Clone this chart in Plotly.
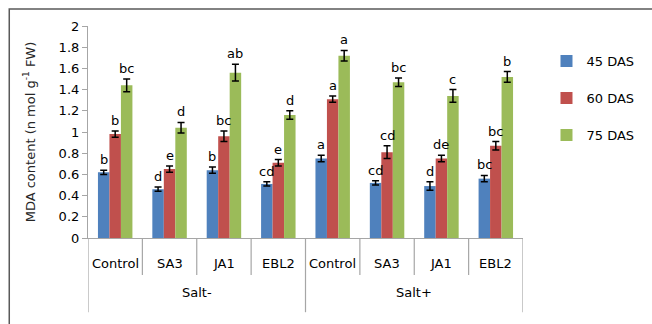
import plotly.graph_objects as go

# MDA content by treatment, salt regime and sampling stage
salt_groups = ["Salt-", "Salt+"]
treatments = ["Control", "SA3", "JA1", "EBL2"]
series_names = ["45 DAS", "60 DAS", "75 DAS"]
colors = ["#4F81BD", "#C0504D", "#9BBB59"]

mda_45 = [0.62, 0.46, 0.64, 0.51, 0.75, 0.52, 0.49, 0.56]
mda_60 = [0.98, 0.65, 0.96, 0.71, 1.31, 0.81, 0.75, 0.87]
mda_75 = [1.44, 1.04, 1.56, 1.16, 1.72, 1.47, 1.34, 1.52]

err_45 = [0.02, 0.02, 0.03, 0.02, 0.03, 0.02, 0.04, 0.03]
err_60 = [0.03, 0.03, 0.05, 0.03, 0.03, 0.06, 0.03, 0.04]
err_75 = [0.06, 0.05, 0.08, 0.04, 0.05, 0.04, 0.06, 0.05]

letters_45 = ["b", "d", "b", "cd", "a", "cd", "d", "bc"]
letters_60 = ["b", "e", "bc", "e", "a", "cd", "de", "bc"]
letters_75 = ["bc", "d", "ab", "d", "a", "bc", "c", "b"]

y_ticks = [0, 0.2, 0.4, 0.6, 0.8, 1, 1.2, 1.4, 1.6, 1.8, 2]

values = [mda_45, mda_60, mda_75]
errors = [err_45, err_60, err_75]
letters = [letters_45, letters_60, letters_75]

n_cat = len(salt_groups) * len(treatments)
xpos = list(range(n_cat))
cat_labels = treatments * len(salt_groups)

bargap = 0.366
bar_w = (1 - bargap) / len(series_names)

FONT = "DejaVu Sans"
fig = go.Figure()

for i, name in enumerate(series_names):
    fig.add_trace(go.Bar(
        x=xpos, y=values[i], name=name,
        marker=dict(color=colors[i], line=dict(width=0)),
        error_y=dict(type="data", array=errors[i], visible=True,
                     color="black", thickness=1.5, width=3.5),
        legendgroup=name,
    ))

annotations = []
# significance letters above each error bar
for i in range(len(series_names)):
    off = (i - 1) * bar_w
    for k in range(n_cat):
        annotations.append(dict(
            x=xpos[k] + off, y=values[i][k] + errors[i][k],
            xref="x", yref="y", text=letters[i][k], showarrow=False,
            yanchor="bottom", yshift=1,
            font=dict(family=FONT, size=13, color="black"),
        ))

shapes = []
# category labels and separators below the axis
for k in range(n_cat):
    annotations.append(dict(
        x=xpos[k], y=-0.118, xref="x", yref="paper", text=cat_labels[k],
        showarrow=False, yanchor="middle",
        font=dict(family=FONT, size=13, color="black"),
    ))
n_t = len(treatments)
for g, grp in enumerate(salt_groups):
    annotations.append(dict(
        x=g * n_t + (n_t - 1) / 2, y=-0.258, xref="x", yref="paper",
        text=grp, showarrow=False, yanchor="middle",
        font=dict(family=FONT, size=13, color="black"),
    ))
for b in range(n_cat + 1):
    long_line = b % n_t == 0
    shapes.append(dict(
        type="line", xref="x", yref="paper",
        x0=b - 0.5, x1=b - 0.5, y0=0, y1=-0.35 if long_line else -0.175,
        line=dict(color="#A6A6A6", width=1.2),
    ))

# outer chart frame
shapes.append(dict(
    type="rect", xref="paper", yref="paper",
    x0=-0.181, x1=2, y0=-1, y1=1.08,
    line=dict(color="#595959", width=1.5), layer="below",
))

fig.update_layout(
    width=652, height=324,
    margin=dict(l=88, r=110, t=26, b=86),
    paper_bgcolor="white", plot_bgcolor="white",
    barmode="group", bargap=bargap, bargroupgap=0,
    font=dict(family=FONT, color="black"),
    showlegend=True,
    legend=dict(
        x=1.054, y=0.905, xanchor="left", yanchor="top",
        font=dict(family=FONT, size=13, color="black"),
        tracegroupgap=17, itemwidth=30,
        bgcolor="rgba(0,0,0,0)",
    ),
    annotations=annotations,
    shapes=shapes,
)

fig.update_xaxes(
    range=[-0.5, n_cat - 0.5], showticklabels=False, ticks="",
    showline=True, linecolor="#A6A6A6", linewidth=1.2,
    showgrid=False, zeroline=False,
)
fig.update_yaxes(
    range=[0, 2], tickvals=y_ticks,
    ticktext=[f"{v:g}" for v in y_ticks],
    ticks="outside", ticklen=5, tickcolor="#A6A6A6", tickwidth=1.2,
    showline=True, linecolor="#A6A6A6", linewidth=1.2,
    showgrid=False, zeroline=False,
    tickfont=dict(family=FONT, size=13, color="black"),
    title=dict(text="MDA content (n mol g<sup>-1</sup> FW)",
               font=dict(family=FONT, size=13, color="#262626"), standoff=20),
)

fig.write_html("out.html")
